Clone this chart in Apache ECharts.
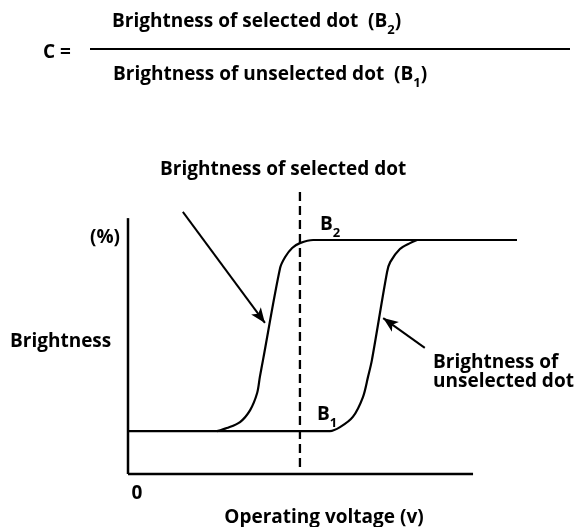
<!DOCTYPE html>
<html>
<head>
<meta charset="utf-8">
<script src="https://cdn.jsdelivr.net/npm/echarts@6/dist/echarts.min.js"></script>
<style>html,body{margin:0;padding:0;background:#fff}#c{width:580px;height:527px}</style>
</head>
<body>
<div id="c"></div>
<script>
// Curve of the selected dot: [voltage, brightness]
var curveSelected = [
  [22.9,15.1],[25.4,16.2],[28.8,18.3],[31.4,22.5],[33.2,28.5],[33.9,34.2],[34.7,40.1],
  [39.1,72.5],[40.4,76.4],[42.2,79.6],[44.2,81.3],[47.6,82.4],[100,82.4]
];
// Baseline and curve of the unselected dot
var curveUnselected = [
  [0,15.1],[51.9,15.1],[54.5,16.5],[57.8,20.1],[60.4,27.1],[61.7,34.2],[62.7,40.1],
  [66.6,71.1],[67.4,74.6],[69.9,79.2],[72.5,81.3],[74.3,82.4]
];
var axisYLine = [[0,0],[0,90.1]];
var axisXLine = [[0,0],[88.7,0]];
var operatingLine = [[44.2,2.5],[44.2,100]];
var arrowSelected = [[14.1,92.3],[35.2,53.2]];
var arrowUnselected = [[76.3,44.4],[65.6,54.9]];

var FONT = '"Open Sans", "Noto Sans", sans-serif';
var FS = 19;
var FW = 700;
var chart = echarts.init(document.getElementById('c'));
function lineSeries(data, w, type) {
  return {
    type: 'line', data: data, symbol: 'none', silent: true, clip: false,
    lineStyle: { color: '#000', width: w, type: type || 'solid' }, animation: false
  };
}
function arrowSeries(a) {
  return {
    type: 'line', data: [], silent: true, animation: false,
    markLine: {
      silent: true, animation: false, symbolSize: [9, 15],
      lineStyle: { color: '#000', width: 2, type: 'solid' },
      label: { show: false },
      data: [[{ coord: a[0], symbol: 'none' }, { coord: a[1], symbol: 'arrow' }]]
    }
  };
}
function txt(text, x, y, size, extra) {
  var s = {
    text: text, x: x, y: y, fill: '#000',
    fontSize: size, fontFamily: FONT, fontWeight: FW,
    verticalAlign: 'middle', align: 'left'
  };
  if (extra) for (var k in extra) s[k] = extra[k];
  return { type: 'text', style: s, silent: true };
}
var rich = {
  m: { fontSize: FS, fontFamily: FONT, fontWeight: FW, lineHeight: 24, verticalAlign: 'middle' },
  s: { fontSize: 13, fontFamily: FONT, fontWeight: FW, lineHeight: 14, verticalAlign: 'bottom', padding: [0, 0, -3, 0] }
};
function richTxt(text, x, y) {
  return { type: 'text', silent: true, style: { x: x, y: y, verticalAlign: 'middle', text: text, rich: rich, fill: '#000' } };
}
chart.setOption({
  animation: false,
  grid: { left: 128, right: 63, top: 190, bottom: 53, containLabel: false },
  xAxis: { type: 'value', min: 0, max: 100, show: false },
  yAxis: { type: 'value', min: 0, max: 100, show: false },
  series: [
    lineSeries(axisYLine, 2.5),
    lineSeries(axisXLine, 2.5),
    lineSeries(operatingLine, 2.3, [9, 5]),
    Object.assign(lineSeries(curveSelected, 2.2), { smooth: 0.3 }),
    Object.assign(lineSeries(curveUnselected, 2.2), { smooth: 0.3 }),
    arrowSeries(arrowSelected),
    arrowSeries(arrowUnselected)
  ],
  graphic: [
    txt('C =', 43, 53, FS),
    { type: 'line', silent: true, shape: { x1: 90, y1: 49, x2: 570, y2: 49 }, style: { stroke: '#000', lineWidth: 2 } },
    richTxt('{m|Brightness of selected dot  (B}{s|2}{m|)}', 112, 22),
    richTxt('{m|Brightness of unselected dot  (B}{s|1}{m|)}', 113, 75),
    txt('Brightness of selected dot', 160, 170, FS),
    txt('(%)', 120, 238, FS, { align: 'right' }),
    txt('Brightness', 10, 342, FS),
    richTxt('{m|B}{s|2}', 320, 225),
    richTxt('{m|B}{s|1}', 317, 415),
    txt('Brightness of', 433, 363, FS),
    txt('unselected dot', 433, 382, FS),
    txt('0', 137, 494, FS, { align: 'center' }),
    txt('Operating voltage (v)', 324, 518, FS, { align: 'center' })
  ]
});
</script>
</body>
</html>
